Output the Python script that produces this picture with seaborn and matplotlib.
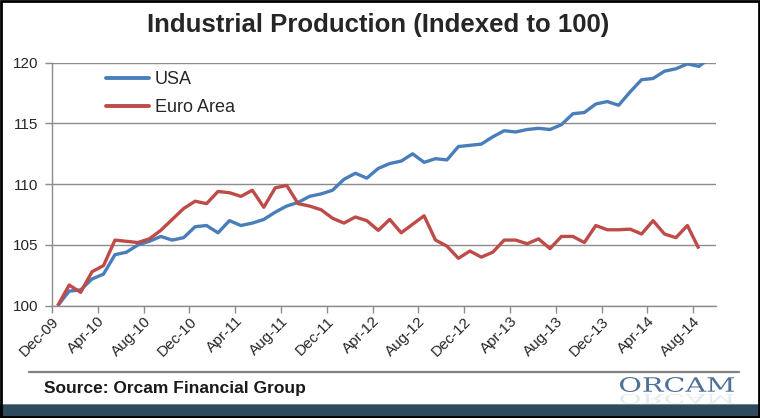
import numpy as np
import pandas as pd
import matplotlib
matplotlib.use('Agg')
import matplotlib.pyplot as plt
import seaborn as sns
from matplotlib.patches import Rectangle, PathPatch
from matplotlib.textpath import TextPath
from matplotlib.font_manager import FontProperties
from matplotlib.transforms import Affine2D

# ── data (monthly, Dec-09 = 100) ─────────────────────────
usa = [100.0, 101.2, 101.3, 102.2, 102.6, 104.2, 104.4, 105.0, 105.3, 105.7,
       105.4, 105.6, 106.5, 106.6, 106.0, 107.0, 106.6, 106.8, 107.1, 107.7,
       108.2, 108.5, 109.0, 109.2, 109.5, 110.4, 110.9, 110.5, 111.3, 111.7,
       111.9, 112.5, 111.8, 112.1, 112.0, 113.1, 113.2, 113.3, 113.9, 114.4,
       114.3, 114.5, 114.6, 114.5, 114.9, 115.8, 115.9, 116.6, 116.8, 116.5,
       117.6, 118.6, 118.7, 119.3, 119.5, 119.9, 119.7, 120.4]
euro = [100.0, 101.7, 101.1, 102.8, 103.3, 105.4, 105.3, 105.2, 105.5, 106.2,
        107.1, 108.0, 108.6, 108.4, 109.4, 109.3, 109.0, 109.5, 108.1, 109.7,
        109.9, 108.4, 108.2, 107.9, 107.2, 106.8, 107.3, 107.0, 106.2, 107.1,
        106.0, 106.7, 107.4, 105.4, 104.9, 103.9, 104.5, 104.0, 104.4, 105.4,
        105.4, 105.1, 105.5, 104.7, 105.7, 105.7, 105.2, 106.6, 106.25, 106.25,
        106.3, 105.9, 107.0, 105.9, 105.6, 106.6, 104.7]
tick_labels = ['Dec-09', 'Apr-10', 'Aug-10', 'Dec-10', 'Apr-11', 'Aug-11', 'Dec-11',
               'Apr-12', 'Aug-12', 'Dec-12', 'Apr-13', 'Aug-13', 'Dec-13',
               'Apr-14', 'Aug-14']
y_ticks = [100, 105, 110, 115, 120]

BLUE = '#4a7ebb'
RED = '#be4b48'
GRID = '#8c8c8c'

df = pd.concat([
    pd.DataFrame({'month': np.arange(len(usa)), 'value': usa, 'series': 'USA'}),
    pd.DataFrame({'month': np.arange(len(euro)), 'value': euro, 'series': 'Euro Area'}),
])

sns.set_style('white')
plt.rcParams['font.family'] = ['Liberation Sans', 'DejaVu Sans']

W, H = 760, 418
fig = plt.figure(figsize=(W / 100, H / 100), dpi=100)
fig.patch.set_facecolor('white')

ax = fig.add_axes([52 / W, 1 - 305.7 / H, (716 - 52) / W, (305.7 - 62.7) / H])
sns.lineplot(data=df, x='month', y='value', hue='series',
             palette={'USA': BLUE, 'Euro Area': RED}, linewidth=2.4,
             ax=ax, legend=False, zorder=3)
for ln in ax.lines:
    ln.set_solid_joinstyle('round')
    ln.set_solid_capstyle('butt')

ax.set_xlim(-0.5, len(usa) - 0.5)
ax.set_ylim(100, 120)
ax.set_yticks(y_ticks)
ax.set_xticks(np.arange(0, 4 * len(tick_labels), 4) - 0.5)
ax.set_xticklabels(tick_labels, rotation=45, ha='right', va='top',
                   rotation_mode='anchor', fontsize=11)
ax.tick_params(axis='y', labelsize=11, length=5, width=1, color=GRID, pad=5, direction='out', left=True)
ax.tick_params(axis='x', length=5, width=1, color=GRID, pad=1, direction='out', bottom=True)
ax.set_xlabel('')
ax.set_ylabel('')
ax.grid(axis='y', color=GRID, linewidth=1)
ax.grid(axis='x', visible=False)
for side in ['top', 'right']:
    ax.spines[side].set_visible(False)
for side in ['left', 'bottom']:
    ax.spines[side].set_color(GRID)
    ax.spines[side].set_linewidth(1)

handles = [plt.Line2D([], [], color=BLUE, linewidth=2.8),
           plt.Line2D([], [], color=RED, linewidth=2.8)]
fig.legend(handles, ['USA', 'Euro Area'], loc='upper left',
           bbox_to_anchor=(106 / W, 1 - 71 / H), frameon=False, fontsize=13,
           handlelength=2.4, handletextpad=0.3, labelspacing=0.62, borderpad=0,
           borderaxespad=0)

fig.text(378 / W, 1 - 25 / H, 'Industrial Production (Indexed to 100)',
         ha='center', va='center', fontsize=18.5, fontweight='bold')

# footer rule, source and logo
fig.add_artist(plt.Line2D([29 / W, 739 / W], [1 - 371.5 / H] * 2, color='#7f7f7f', linewidth=1.6))
fig.text(44 / W, 1 - 389 / H, 'Source: Orcam Financial Group', ha='left', va='center',
         fontsize=12.5, fontweight='bold', color='#1a1a1a')

tp = TextPath((0, 0), 'ORCAM', size=10, prop=FontProperties(family='DejaVu Serif'))
bb = tp.get_extents()
sx = (734 - 620) / bb.width
sy = 15 / bb.height
logo = Affine2D().translate(-bb.x0, -bb.y0).scale(sx, sy).translate(620, H - 392)
fig.add_artist(PathPatch(tp, transform=logo, facecolor='#4f7199', edgecolor='none'))
refl = Affine2D().translate(-bb.x0, -bb.y0).scale(sx, -0.65 * sy).translate(620, H - 394)
fig.add_artist(PathPatch(tp, transform=refl, facecolor='#b4c3d3', edgecolor='none', alpha=0.35))

# bottom bar and outer frame
fig.add_artist(Rectangle((0, 0), 1, 13 / H, transform=fig.transFigure,
                         facecolor='#2d4b5c', edgecolor='none'))
fig.add_artist(Rectangle((0, 13 / H), 1, 1.5 / H, transform=fig.transFigure,
                         facecolor='#6f8794', edgecolor='none'))
fig.add_artist(Rectangle((1 / W, 1 / H), 1 - 2 / W, 1 - 2 / H, transform=fig.transFigure,
                         facecolor='none', edgecolor='black', linewidth=2))

fig.savefig('out.png', dpi=100)
